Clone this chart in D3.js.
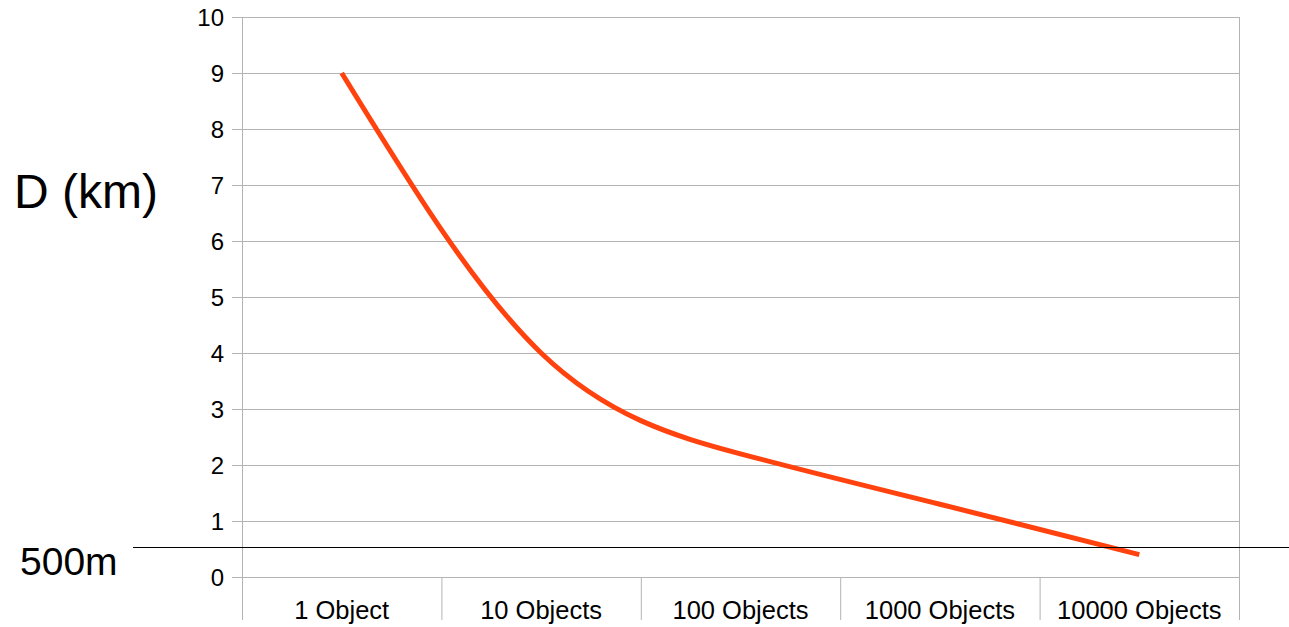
<!DOCTYPE html>
<html>
<head>
<meta charset="utf-8">
<script src="https://cdnjs.cloudflare.com/ajax/libs/d3/7.8.5/d3.min.js"></script>
<style>
body { margin: 0; background: #fff; }
svg { display: block; font-family: "Liberation Sans", Arial, sans-serif; }
</style>
</head>
<body>
<div id="chart"></div>
<script>
// chart data
var categories = ["1 Object", "10 Objects", "100 Objects", "1000 Objects", "10000 Objects"];
var distances = [9.0, 4.0, 2.2, 1.3, 0.4];
var yTicks = [0, 1, 2, 3, 4, 5, 6, 7, 8, 9, 10];
var markerValue = 0.5;

var w = 1289;
var h = 627;
var plotLeft = 242, plotRight = 1239, plotTop = 17, plotBottom = 577;

function init()
{
    var xScale = d3.scaleBand().domain(categories).range([plotLeft, plotRight]);
    var yScale = d3.scaleLinear().domain([0, 10]).range([plotBottom, plotTop]);

    var svg = d3.select("#chart").append("svg").attr("width", w).attr("height", h);

    // grid
    svg.selectAll("line.grid")
    .data(yTicks)
    .enter()
    .append("line")
    .attr("x1", plotLeft - 10)
    .attr("x2", plotRight)
    .attr("y1", (d) => yScale(d) + 0.5)
    .attr("y2", (d) => yScale(d) + 0.5)
    .attr("stroke", "#b3b3b3")
    .attr("stroke-width", 1);

    // y labels
    svg.selectAll("text.ylab")
    .data(yTicks)
    .enter()
    .append("text")
    .attr("x", 224)
    .attr("y", (d) => yScale(d))
    .attr("dy", "0.36em")
    .attr("text-anchor", "end")
    .attr("font-size", 24)
    .text((d) => d);

    // vertical band edges
    var edges = categories.map((c) => xScale(c)).concat([plotRight]);
    svg.selectAll("line.edge")
    .data(edges)
    .enter()
    .append("line")
    .attr("x1", (d) => d + 0.5)
    .attr("x2", (d) => d + 0.5)
    .attr("y1", (d, i) => (i == 0 || i == edges.length - 1) ? plotTop : plotBottom)
    .attr("y2", 620)
    .attr("stroke", "#b3b3b3")
    .attr("stroke-width", 1);

    // category labels
    svg.selectAll("text.xlab")
    .data(categories)
    .enter()
    .append("text")
    .attr("x", (d) => xScale(d) + xScale.bandwidth() / 2)
    .attr("y", 619)
    .attr("text-anchor", "middle")
    .attr("font-size", 25.5)
    .text((d) => d);

    // series
    var line = d3.line()
    .x((d, i) => xScale(categories[i]) + xScale.bandwidth() / 2)
    .y((d) => yScale(d))
    .curve(d3.curveNatural);

    svg.append("path")
    .datum(distances)
    .attr("d", line)
    .attr("fill", "none")
    .attr("stroke", "#ff420e")
    .attr("stroke-width", 5);

    // 500m line
    svg.append("line")
    .attr("x1", 133)
    .attr("x2", w)
    .attr("y1", yScale(markerValue) - 1.5)
    .attr("y2", yScale(markerValue) - 1.5)
    .attr("stroke", "#000")
    .attr("stroke-width", 1);

    svg.append("text")
    .attr("x", 20)
    .attr("y", 575)
    .attr("font-size", 39)
    .text("500m");

    svg.append("text")
    .attr("x", 14)
    .attr("y", 208)
    .attr("font-size", 48)
    .text("D (km)");
}

window.onload = init;
</script>
</body>
</html>
